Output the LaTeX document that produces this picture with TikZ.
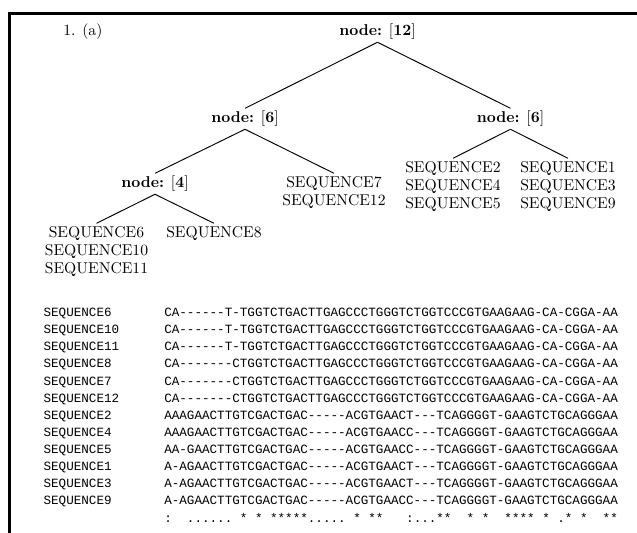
\documentclass[tikz,border=0pt]{standalone}
\usepackage{fontspec}
\newfontfamily\alnfont{Liberation Mono}[Ligatures=TeXOff]
\begin{document}
\begin{tikzpicture}[x=0.639pt,y=-0.639pt,
  treenode/.style={inner sep=0pt,outer sep=1.7pt,text height=7.5pt,text depth=2.5pt,anchor=base},
  leafblock/.style={inner sep=0pt,outer sep=1.7pt,align=center,anchor=north,font=\fontsize{10}{11.3}\selectfont},
  branch/.style={line width=0.6pt},
  frameline/.style={line width=1.6pt},
  seqtext/.style={inner sep=0pt,anchor=base west,font=\alnfont\fontsize{8.05}{9}\selectfont}]
\useasboundingbox (0,0) rectangle (637,533);
% page frame (top and left rules)
\draw[frameline] (9.3,533) -- (9.3,13.5) -- (637,13.5);

% guide tree
\node[anchor=base west,inner sep=0pt] (item) at (63,35.7) {1.\hspace{4.4pt}(a)};
\node[treenode] (root) at (377.5,35.7) {\textbf{node:} [\textbf{12}]};
\node[treenode] (nL) at (245,122.7) {\textbf{node:} [\textbf{6}]};
\node[treenode] (nR) at (510.5,122.7) {\textbf{node:} [\textbf{6}]};
\node[treenode] (n4) at (155,187.7) {\textbf{node:} [\textbf{4}]};
\node[leafblock] (s7) at (334,173.3) {\rule{0pt}{7.5pt}SEQUENCE7\\SEQUENCE12};
\node[leafblock] (s2) at (453,158.3) {\rule{0pt}{7.5pt}SEQUENCE2\\SEQUENCE4\\SEQUENCE5};
\node[leafblock] (s1) at (568,158.3) {\rule{0pt}{7.5pt}SEQUENCE1\\SEQUENCE3\\SEQUENCE9};
\node[leafblock] (s6) at (96.5,223.3) {\rule{0pt}{7.5pt}SEQUENCE6\\SEQUENCE10\\SEQUENCE11};
\node[leafblock] (s8) at (214,223.3) {\rule{0pt}{7.5pt}SEQUENCE8};

\draw[branch] (root.south) -- (nL.north);
\draw[branch] (root.south) -- (nR.north);
\draw[branch] (nL.south) -- (n4.north);
\draw[branch] (nL.south) -- (s7.north);
\draw[branch] (nR.south) -- (s2.north);
\draw[branch] (nR.south) -- (s1.north);
\draw[branch] (n4.south) -- (s6.north);
\draw[branch] (n4.south) -- (s8.north);

% multiple alignment
\foreach \lab/\seq [count=\k from 0] in {
  SEQUENCE6/CA------T-TGGTCTGACTTGAGCCCTGGGTCTGGTCCCGTGAAGAAG-CA-CGGA-AA,
  SEQUENCE10/CA------T-TGGTCTGACTTGAGCCCTGGGTCTGGTCCCGTGAAGAAG-CA-CGGA-AA,
  SEQUENCE11/CA------T-TGGTCTGACTTGAGCCCTGGGTCTGGTCCCGTGAAGAAG-CA-CGGA-AA,
  SEQUENCE8/CA-------CTGGTCTGACTTGAGCCCTGGGTCTGGTCCCGTGAAGAAG-CA-CGGA-AA,
  SEQUENCE7/CA-------CTGGTCTGACTTGAGCCCTGGGTCTGGTCCCGTGAAGAAG-CA-CGGA-AA,
  SEQUENCE12/CA-------CTGGTCTGACTTGAGCCCTGGGTCTGGTCCCGTGAAGAAG-CA-CGGA-AA,
  SEQUENCE2/AAAGAACTTGTCGACTGAC-----ACGTGAACT---TCAGGGGT-GAAGTCTGCAGGGAA,
  SEQUENCE4/AAAGAACTTGTCGACTGAC-----ACGTGAACC---TCAGGGGT-GAAGTCTGCAGGGAA,
  SEQUENCE5/AA-GAACTTGTCGACTGAC-----ACGTGAACC---TCAGGGGT-GAAGTCTGCAGGGAA,
  SEQUENCE1/A-AGAACTTGTCGACTGAC-----ACGTGAACT---TCAGGGGT-GAAGTCTGCAGGGAA,
  SEQUENCE3/A-AGAACTTGTCGACTGAC-----ACGTGAACT---TCAGGGGT-GAAGTCTGCAGGGAA,
  SEQUENCE9/A-AGAACTTGTCGACTGAC-----ACGTGAACC---TCAGGGGT-GAAGTCTGCAGGGAA}
{
  \node[seqtext] (lab\k) at (43.3,316.5+17.13*\k) {\lab};
  \node[seqtext] (seq\k) at (164,316.5+17.13*\k) {\seq};
}
\node[seqtext] (cons) at (164,522.1)
  {:~~......~*~*~*****.....~*~**~~~:...**~~*~*~~****~*~.*~*~~**};
\end{tikzpicture}
\end{document}
